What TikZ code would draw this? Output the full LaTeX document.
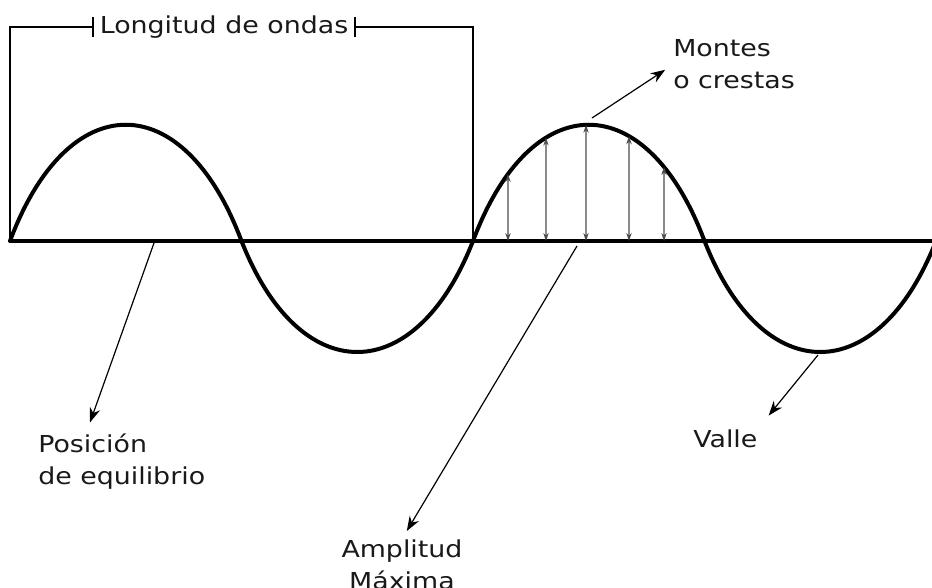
\documentclass[tikz,border=0pt]{standalone}
\usepackage{fontspec}
\setmainfont{DejaVu Sans}[FakeStretch=1.15]
\usetikzlibrary{arrows.meta,positioning,intersections}

\tikzset{
  onda/.style={line width=3pt, black, line cap=round},
  eje/.style={line width=2.5pt, black},
  marco/.style={line width=1.2pt, black},
  flecha/.style={-{Stealth[length=11pt,width=8pt]}, line width=0.9pt},
  amp/.style={{Stealth[length=6pt,width=4pt]}-{Stealth[length=6pt,width=4pt]}, line width=0.9pt, black!70},
  etiq/.style={font=\fontsize{17.5}{24}\selectfont, text=black!90, inner sep=0pt, align=left},
}

\begin{document}
\begin{tikzpicture}[x=0.75pt, y=-0.75pt]
  \useasboundingbox (0,0) rectangle (932,588);
  % puntos de la onda sobre el eje
  \coordinate (z0) at (10,241);
  \coordinate (z1) at (241.5,241);
  \coordinate (z2) at (473,241);
  \coordinate (z3) at (704.5,241);
  \coordinate (z4) at (936,241);
  \coordinate (fin) at (932,241);
  % eje y onda
  \draw[eje] (z0) -- (fin);
  \draw[onda, name path=curva] (z0) .. controls +(58,-155) and +(-58,-155) .. (z1)
    .. controls +(58,148) and +(-58,148) .. (z2)
    .. controls +(58,-155) and +(-58,-155) .. (z3)
    .. controls +(58,148) and +(-58,148) .. (z4);
  % amplitudes
  \foreach \x [count=\i] in {508,546,586,629,664} {
    \coordinate (b\i) at (\x,241);
    \path[name path=vert] (\x,250) -- (\x,100);
    \draw[amp, name intersections={of=curva and vert}] (b\i) -- (intersection-1);
  }
  % longitud de onda
  \node[etiq, anchor=base, inner xsep=4.5pt] (longitud) at (224,33.5) {Longitud de ondas};
  \draw[marco, -{Bar[width=15pt]}] (z0) |- (longitud.west);
  \draw[marco, -{Bar[width=15pt]}] (z2) |- (longitud.east);
  % etiquetas
  \node[etiq, anchor=base west] (montes) at (673,89) {Montes\\o crestas};
  \node[etiq, anchor=base west] (posicion) at (38,484) {Posición\\de equilibrio};
  \node[etiq, anchor=base, align=center] (amplitud) at (402,589) {Amplitud\\Máxima};
  \node[etiq, anchor=base west] (valle) at (693,447) {Valle};
  \coordinate (cresta) at (592,118);
  \coordinate (equilibrio) at (154,243);
  \coordinate (maxima) at (577,246);
  \coordinate (fondo) at (818,355);
  \draw[flecha, shorten >=7pt] (cresta) -- (montes.west);
  \draw[flecha] (equilibrio) -- ([xshift=39pt,yshift=8pt]posicion.north west);
  \draw[flecha, shorten >=7pt] (maxima) -- (amplitud.north);
  \draw[flecha, shorten >=13pt] (fondo) -- (valle.north east);
\end{tikzpicture}
\end{document}
